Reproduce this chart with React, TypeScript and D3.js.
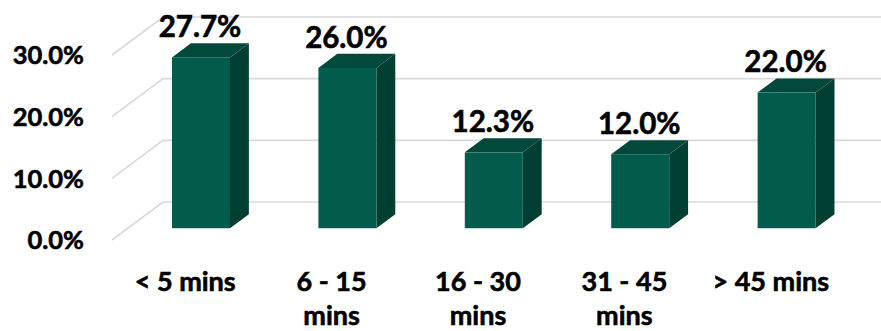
import React from "react";
import * as d3 from "d3";

const categories: string[][] = [["< 5 mins"], ["6 - 15", "mins"], ["16 - 30", "mins"], ["31 - 45", "mins"], ["> 45 mins"]];
const values: number[] = [27.7, 26.0, 12.3, 12.0, 22.0];
const yTicks: number[] = [0, 10, 20, 30];

const W = 881;
const H = 331;
const FRONT_LEFT = 112;
const FRONT_RIGHT = 844;
const Y0 = 240;
const Y30 = 55;
const DEPTH = { dx: 51, dy: -38 };
const F0 = 0.31;
const F1 = 0.68;
const BAR_W = 58;

const FRONT = "#035b4b";
const SIDE = "#013f33";
const TOP = "#02493c";
const GRID = "#d9d9d9";
const FONT = "Lato, 'Open Sans', sans-serif";

export default function App() {
  const keys = categories.map((c) => c.join(" "));
  const x = d3.scaleBand<string>().domain(keys).range([FRONT_LEFT, FRONT_RIGHT]).padding(0);
  const y = d3.scaleLinear().domain([0, 30]).range([Y0, Y30]);
  const fmt = d3.format(".1f");

  const bx0 = F0 * DEPTH.dx;
  const by0 = F0 * DEPTH.dy;
  const sdx = (F1 - F0) * DEPTH.dx;
  const sdy = (F1 - F0) * DEPTH.dy;

  const textStyle = { paintOrder: "stroke" as const };

  return (
    <svg width={W} height={H} style={{ position: "absolute", left: 0, top: 0, background: "#fff" }}>
      {yTicks.map((t) => {
        const fy = y(t);
        const bxL = FRONT_LEFT + DEPTH.dx;
        const byL = fy + DEPTH.dy;
        return (
          <g key={t}>
            <path d={`M${FRONT_LEFT},${fy}L${bxL},${byL}L${W},${byL}`} fill="none" stroke={GRID} strokeWidth={1.6} />
            <text x={84} y={fy} dy="0.36em" textAnchor="end" fontFamily={FONT} fontWeight={700} fontSize={25.5} fill="#000" stroke="#000" strokeWidth={0.6} style={textStyle}>
              {fmt(t) + "%"}
            </text>
          </g>
        );
      })}
      {values.map((v, i) => {
        const cx = (x(keys[i]) as number) + x.bandwidth() / 2;
        const left = cx + bx0 - BAR_W / 2;
        const right = left + BAR_W;
        const bottom = Y0 + by0;
        const top = y(v) + by0;
        return (
          <g key={i}>
            <path d={`M${right},${bottom}L${right + sdx},${bottom + sdy}L${right + sdx},${top + sdy}L${right},${top}Z`} fill={SIDE} />
            <path d={`M${left},${top}L${left + sdx},${top + sdy}L${right + sdx},${top + sdy}L${right},${top}Z`} fill={TOP} />
            <rect x={left} y={top} width={BAR_W} height={bottom - top} fill={FRONT} />
            <text x={cx + bx0 - 1} y={top + sdy - 6} textAnchor="middle" fontFamily={FONT} fontWeight={700} fontSize={29.5} fill="#000" stroke="#000" strokeWidth={0.6} style={textStyle}>
              {fmt(v) + "%"}
            </text>
          </g>
        );
      })}
      {categories.map((lines, i) => {
        const cx = (x(keys[i]) as number) + x.bandwidth() / 2;
        return (
          <text key={i} x={cx} y={291} textAnchor="middle" fontFamily={FONT} fontWeight={700} fontSize={27} fill="#000" stroke="#000" strokeWidth={0.6} style={textStyle}>
            {lines.map((l, j) => (
              <tspan key={j} x={cx} dy={j === 0 ? 0 : 34}>{l}</tspan>
            ))}
          </text>
        );
      })}
    </svg>
  );
}
